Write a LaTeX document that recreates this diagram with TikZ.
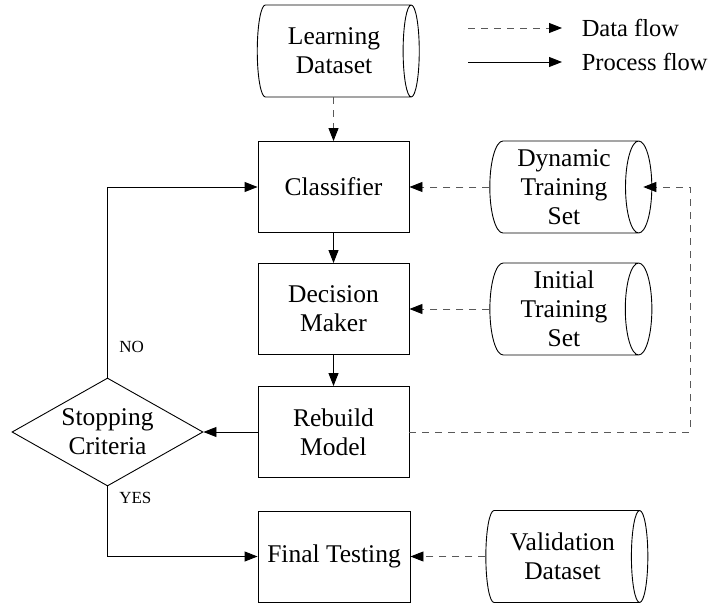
\documentclass[tikz,border=0pt]{standalone}
\usepackage{fontspec}
\setmainfont{Liberation Serif}
\usetikzlibrary{arrows.meta}
\usetikzlibrary{shapes.geometric}
\usetikzlibrary{positioning}

\tikzset{
  txt/.style={font=\fontsize{25.5}{29}\selectfont, align=center},
  legendtxt/.style={font=\fontsize{24.5}{29}\selectfont},
  procbox/.style={txt, draw, minimum width=151pt, minimum height=91pt, inner sep=0pt},
  store/.style={txt, draw, cylinder, shape aspect=0.35, minimum width=92pt, minimum height=162pt, inner sep=0pt},
  decide/.style={txt, draw, diamond, aspect=1.77, minimum width=191pt, minimum height=108pt, inner sep=0pt},
  small/.style={font=\fontsize{17}{20}\selectfont},
  dataflow/.style={draw=black!65, line width=0.9pt, dash pattern=on 7pt off 6pt, -{Triangle[length=13pt,width=10pt,color=black]}},
  procflow/.style={draw=black, line width=0.9pt, -{Triangle[length=13pt,width=10pt]}}
}

\begin{document}
\begin{tikzpicture}[x=1pt,y=1pt,line width=0.9pt]
\useasboundingbox (0,0) rectangle (714,603);
% main column
\node[procbox] (clf) at (333.5,416) {Classifier};
\node[procbox] (dec) at (333.5,294) {Decision\\Maker};
\node[procbox] (reb) at (333.5,171) {Rebuild\\Model};
\node[procbox, minimum width=152pt] (final) at (334,46.5) {Final Testing};
\node[decide] (stop) at (107.5,171) {Stopping\\Criteria};
% data stores
\node[store] (learn) at (334,552) {Learning\\Dataset};
\node[store] (dyn) at (564,416) {Dynamic\\Training\\Set};
\node[store] (init) at (564,294) {Initial\\Training\\Set};
\node[store] (valid) at (562.5,46.5) {Validation\\Dataset};
% legend
\coordinate (dstart) at (468,575);
\coordinate (dend) at (562,575);
\coordinate (pstart) at (468,541);
\coordinate (pend) at (562,541);
\node[legendtxt, anchor=west] (dlabel) at (578,575) {Data flow};
\node[legendtxt, anchor=west] (plabel) at (578,541) {Process flow};
\draw[dataflow] (dstart) -- (dend);
\draw[procflow] (pstart) -- (pend);
% data flow
\draw[dataflow] (clf.north |- learn.south) -- (clf.north);
\draw[dataflow] (dyn.west) -- (clf.east);
\draw[dataflow] (init.west) -- (dec.east);
\draw[dataflow] (valid.west) -- (final.east);
\coordinate (loopx) at (690,0);
\draw[dataflow] (reb.east) -- (reb.east -| loopx) |- ([xshift=-9pt]dyn.east);
% process flow
\draw[procflow] (clf) -- (dec);
\draw[procflow] (dec) -- (reb);
\draw[procflow] (reb) -- (stop);
\draw[procflow] (stop.north) |- (clf.west) node[small, pos=0.08, anchor=west, xshift=8pt] (no) {NO};
\draw[procflow] (stop.south) |- (final.west) node[small, pos=0.08, anchor=west, xshift=8pt] (yes) {YES};
\end{tikzpicture}
\end{document}
